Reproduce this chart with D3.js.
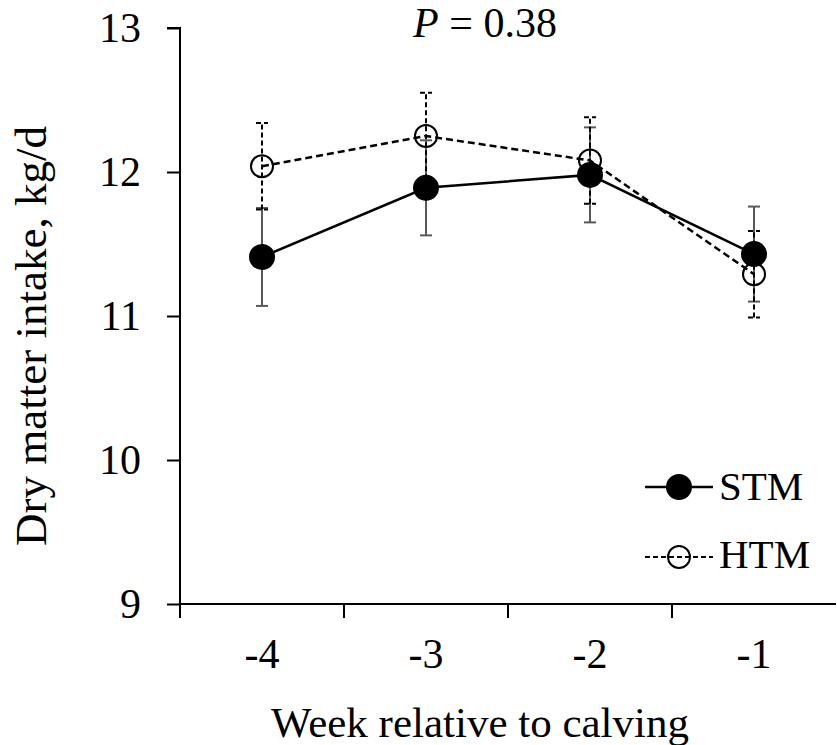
<!DOCTYPE html>
<html>
<head>
<meta charset="utf-8">
<script src="https://cdn.jsdelivr.net/npm/d3@7"></script>
<style>
  html, body { margin: 0; padding: 0; background: #fff; }
  svg, svg text { font-family: 'Liberation Serif', 'Times New Roman', serif; }
</style>
</head>
<body>
<svg id="chart" width="837" height="745"></svg>
<script>
// Dry matter intake by week relative to calving
const weeks = ["-4", "-3", "-2", "-1"];
const stmMean = [11.41, 11.89, 11.98, 11.43];
const stmSE = [0.34, 0.33, 0.33, 0.33];
const htmMean = [12.04, 12.25, 12.08, 11.29];
const htmSE = [0.30, 0.30, 0.30, 0.30];
const yTicks = [9, 10, 11, 12, 13];
const pLabel = "0.38";

const FONT = "'Liberation Serif', 'Times New Roman', serif";
const svg = d3.select("#chart");
const m = { left: 180, right: 836, top: 28, bottom: 604 };

const x = d3.scaleBand().domain(weeks).range([m.left, m.right]);
const y = d3.scaleLinear().domain([9, 13]).range([m.bottom, m.top]);
const cx = w => x(w) + x.bandwidth() / 2;

// Axes
const yAxis = svg.append("g")
  .attr("transform", `translate(${m.left},0)`)
  .call(d3.axisLeft(y).tickValues(yTicks).tickSize(13).tickPadding(26).tickFormat(d3.format("d")));
const xAxis = svg.append("g")
  .attr("transform", `translate(0,${m.bottom})`)
  .call(d3.axisBottom(x).tickSize(0).tickPadding(34));
// ticks on the band edges of the x axis
xAxis.selectAll(".edge")
  .data(d3.range(weeks.length))
  .enter().append("line")
  .attr("x1", i => x(weeks[i])).attr("x2", i => x(weeks[i]))
  .attr("y1", 0).attr("y2", 14)
  .attr("stroke", "#000").attr("stroke-width", 2);

[yAxis, xAxis].forEach(g => {
  g.attr("font-family", null).attr("font-size", null);
  g.select(".domain").attr("stroke", "#000").attr("stroke-width", 2);
  g.selectAll(".tick line").attr("stroke", "#000").attr("stroke-width", 2);
  g.selectAll("text").attr("fill", "#000")
    .style("font-family", FONT).style("font-size", "42px");
});
yAxis.select(".domain").attr("d", `M-13,${m.top}H0V${m.bottom}`);
xAxis.select(".domain").attr("d", `M${m.left},0H${m.right}`);

// Series data
const stm = weeks.map((w, i) => ({ w, v: stmMean[i], se: stmSE[i] }));
const htm = weeks.map((w, i) => ({ w, v: htmMean[i], se: htmSE[i] }));
const line = d3.line().x(d => cx(d.w)).y(d => y(d.v));

// Error bars (±SE)
function errorBars(data, color, dash, cls) {
  const g = svg.append("g").attr("class", cls);
  g.selectAll("line.v").data(data).enter().append("line")
    .attr("x1", d => cx(d.w)).attr("x2", d => cx(d.w))
    .attr("y1", d => y(d.v - d.se)).attr("y2", d => y(d.v + d.se))
    .attr("stroke", color).attr("stroke-width", 2).attr("stroke-dasharray", dash);
  ["top", "bot"].forEach(k => {
    g.selectAll("line." + k).data(data).enter().append("line")
      .attr("x1", d => cx(d.w) - 6).attr("x2", d => cx(d.w) + 6)
      .attr("y1", d => y(k === "top" ? d.v + d.se : d.v - d.se))
      .attr("y2", d => y(k === "top" ? d.v + d.se : d.v - d.se))
      .attr("stroke", color).attr("stroke-width", 2).attr("stroke-dasharray", dash);
  });
}
errorBars(stm, "#595959", null, "err-stm");
errorBars(htm, "#000", "5,3", "err-htm");

// Lines
svg.append("path").datum(htm).attr("d", line)
  .attr("fill", "none").attr("stroke", "#000").attr("stroke-width", 2.5).attr("stroke-dasharray", "7,4");
svg.append("path").datum(stm).attr("d", line)
  .attr("fill", "none").attr("stroke", "#000").attr("stroke-width", 2.5);

// Markers
svg.selectAll("circle.htm").data(htm).enter().append("circle")
  .attr("class", "htm").attr("cx", d => cx(d.w)).attr("cy", d => y(d.v)).attr("r", 11)
  .attr("fill", "none").attr("stroke", "#000").attr("stroke-width", 2);
svg.selectAll("circle.stm").data(stm).enter().append("circle")
  .attr("class", "stm").attr("cx", d => cx(d.w)).attr("cy", d => y(d.v)).attr("r", 13)
  .attr("fill", "#000");

// P value
const pt = svg.append("text").attr("x", 485).attr("y", 37).attr("text-anchor", "middle")
  .style("font-size", "42px");
pt.append("tspan").style("font-style", "italic").text("P");
pt.append("tspan").text(" = " + pLabel);

// Axis titles
svg.append("text").attr("x", 480).attr("y", 737).attr("text-anchor", "middle")
  .style("font-size", "43px").text("Week relative to calving");
svg.append("text").attr("transform", "translate(46,336) rotate(-90)")
  .attr("text-anchor", "middle").style("font-size", "45px")
  .text("Dry matter intake, kg/d");

// Legend
const leg = svg.append("g").style("font-size", "41px");
leg.append("line").attr("x1", 645).attr("x2", 713).attr("y1", 487).attr("y2", 487)
  .attr("stroke", "#000").attr("stroke-width", 2.5);
leg.append("circle").attr("cx", 679).attr("cy", 487).attr("r", 13).attr("fill", "#000");
leg.append("text").attr("x", 719).attr("y", 500).text("STM");
leg.append("line").attr("x1", 645).attr("x2", 713).attr("y1", 557).attr("y2", 557)
  .attr("stroke", "#000").attr("stroke-width", 1.8).attr("stroke-dasharray", "5,3");
leg.append("circle").attr("cx", 679).attr("cy", 557).attr("r", 11)
  .attr("fill", "none").attr("stroke", "#000").attr("stroke-width", 2);
leg.append("text").attr("x", 719).attr("y", 568).text("HTM");
</script>
</body>
</html>
